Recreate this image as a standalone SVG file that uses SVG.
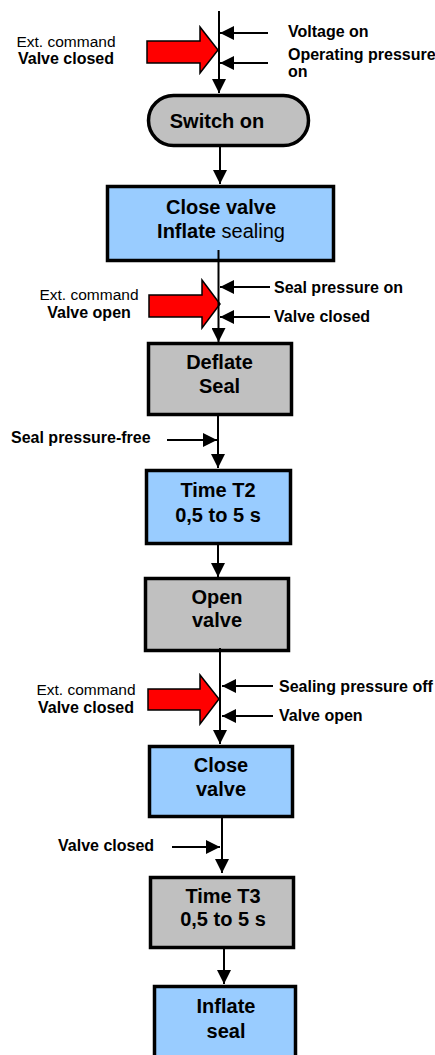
<svg xmlns="http://www.w3.org/2000/svg" width="435" height="1055" viewBox="0 0 435 1055">
<style>
.bx{stroke:#000;stroke-width:3.5}
.blue{fill:#99ccff}
.gray{fill:#c0c0c0}
.t{font-family:"Liberation Sans",Arial,sans-serif;font-weight:bold;font-size:20px;text-anchor:middle;fill:#000}
.l{font-family:"Liberation Sans",Arial,sans-serif;font-weight:bold;font-size:16px;fill:#000}
.e{font-family:"Liberation Sans",Arial,sans-serif;font-size:15.5px;text-anchor:middle;fill:#000}
.eb{font-family:"Liberation Sans",Arial,sans-serif;font-size:16px;font-weight:bold;text-anchor:middle;fill:#000}
.c{stroke:#000;stroke-width:2;fill:none;marker-end:url(#ah)}
.red{fill:#ff0000;stroke:#000;stroke-width:1.5}
</style>
<defs>
<marker id="ah" viewBox="0 0 14 14" refX="14" refY="7" markerWidth="14" markerHeight="14" markerUnits="userSpaceOnUse" orient="auto">
<path d="M0,0 L14,7 L0,14 z" fill="#000"/>
</marker>
</defs>
<rect width="435" height="1055" fill="#fff"/>

<g id="switch-on">
<rect class="bx gray" x="148.5" y="95.5" width="160" height="50" rx="25" ry="25"/>
<text class="t" x="217" y="128">Switch on</text>
</g>
<g id="close-valve-inflate">
<rect class="bx blue" x="107.5" y="186.5" width="226" height="74"/>
<text class="t" x="221" y="214">Close valve</text>
<text class="t" x="221" y="238">Inflate<tspan font-weight="normal"> sealing</tspan></text>
</g>
<g id="deflate-seal">
<rect class="bx gray" x="148.5" y="343.5" width="143" height="71"/>
<text class="t" x="219.5" y="369">Deflate</text>
<text class="t" x="219.5" y="393">Seal</text>
</g>
<g id="time-t2">
<rect class="bx blue" x="146.5" y="470.5" width="144" height="73"/>
<text class="t" x="218" y="497">Time T2</text>
<text class="t" x="218" y="522">0,5 to 5 s</text>
</g>
<g id="open-valve">
<rect class="bx gray" x="145.5" y="578.5" width="143" height="72"/>
<text class="t" x="217" y="604">Open</text>
<text class="t" x="217" y="627">valve</text>
</g>
<g id="close-valve">
<rect class="bx blue" x="149.5" y="746.5" width="143" height="70"/>
<text class="t" x="221" y="772">Close</text>
<text class="t" x="221" y="796">valve</text>
</g>
<g id="time-t3">
<rect class="bx gray" x="150.5" y="877.5" width="143" height="70"/>
<text class="t" x="223" y="903">Time T3</text>
<text class="t" x="223" y="926">0,5 to 5 s</text>
</g>
<g id="inflate-seal">
<rect class="bx blue" x="154.5" y="986.5" width="141" height="80"/>
<text class="t" x="226" y="1013">Inflate</text>
<text class="t" x="226" y="1038">seal</text>
</g>

<g id="ext-commands">
<polygon class="red" points="147,41 200,41 200,27 218,50 200,73 200,63 147,63"/>
<text class="e" x="66" y="47">Ext. command</text>
<text class="eb" x="66" y="64">Valve closed</text>
<polygon class="red" points="149,295 202,295 202,280 220,304 202,328 202,317 149,317"/>
<text class="e" x="89" y="300">Ext. command</text>
<text class="eb" x="89" y="318">Valve open</text>
<polygon class="red" points="148,689 200,689 200,675 219,699 200,724 200,710 148,710"/>
<text class="e" x="86" y="695">Ext. command</text>
<text class="eb" x="86" y="713">Valve closed</text>
</g>

<g id="connectors">
<line class="c" x1="219" y1="11" x2="219" y2="93"/>
<line class="c" x1="268" y1="33" x2="220" y2="33"/>
<line class="c" x1="268" y1="63" x2="220" y2="63"/>
<line class="c" x1="220" y1="147" x2="220" y2="184"/>
<line class="c" x1="218.5" y1="250" x2="218.5" y2="342"/>
<line class="c" x1="270" y1="287" x2="220" y2="287"/>
<line class="c" x1="270" y1="317" x2="220" y2="317"/>
<line class="c" x1="218" y1="416" x2="218" y2="468"/>
<line class="c" x1="167" y1="440" x2="217" y2="440"/>
<line class="c" x1="218" y1="545" x2="218" y2="577"/>
<line class="c" x1="220" y1="648" x2="220" y2="744"/>
<line class="c" x1="273" y1="686" x2="222" y2="686"/>
<line class="c" x1="273" y1="716" x2="222" y2="716"/>
<line class="c" x1="222" y1="818" x2="222" y2="873"/>
<line class="c" x1="172" y1="847" x2="220" y2="847"/>
<line class="c" x1="224" y1="949" x2="224" y2="984"/>
</g>

<g id="labels">
<text class="l" x="288" y="37">Voltage on</text>
<text class="l" x="288" y="60">Operating pressure</text>
<text class="l" x="288" y="77">on</text>
<text class="l" x="274" y="293">Seal pressure on</text>
<text class="l" x="274" y="322">Valve closed</text>
<text class="l" x="11" y="443">Seal pressure-free</text>
<text class="l" x="279" y="692">Sealing pressure off</text>
<text class="l" x="279" y="721">Valve open</text>
<text class="l" x="58" y="851">Valve closed</text>
</g>
</svg>
